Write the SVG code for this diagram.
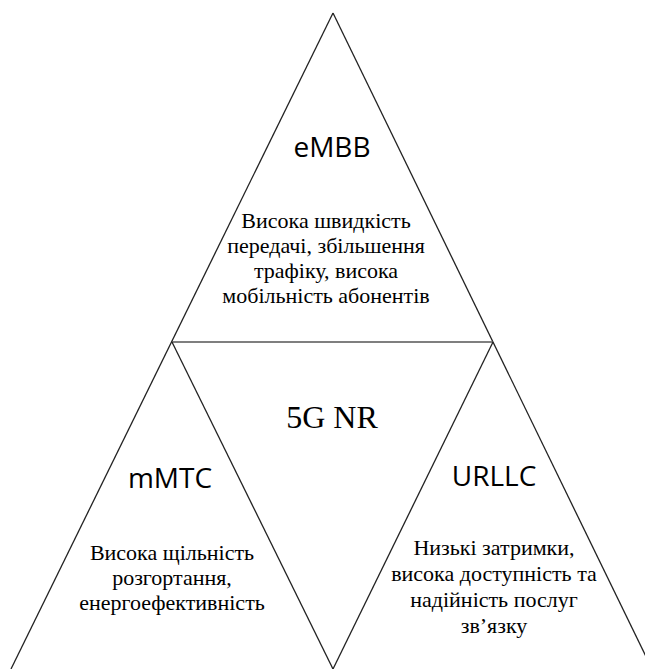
<svg xmlns="http://www.w3.org/2000/svg" width="645" height="669" viewBox="0 0 645 669">
<style>
.ln{stroke:#222;stroke-width:1.3;fill:none}
.hl{stroke:#555;stroke-width:1.6;fill:none}
.t{font-family:"Open Sans","Liberation Sans",sans-serif;font-size:28px;fill:#000;text-anchor:middle}
.b{font-family:"Liberation Serif","Times New Roman",serif;font-size:22px;fill:#000;text-anchor:middle}
.c{font-family:"Liberation Serif","Times New Roman",serif;font-size:32px;fill:#000;text-anchor:middle}
</style>
<rect width="645" height="669" fill="#fff"/>
<g id="connectors">
<line class="ln" x1="333" y1="13" x2="11" y2="669"/>
<line class="ln" x1="333" y1="13" x2="652" y2="669"/>
<line class="hl" x1="172" y1="342" x2="493" y2="342"/>
<line class="ln" x1="172" y1="342" x2="333" y2="669"/>
<line class="ln" x1="493" y1="342" x2="333" y2="669"/>
</g>
<g id="embb">
<text class="t" x="332" y="157">eMBB</text>
<text class="b" x="326" y="228">Висока швидкість</text>
<text class="b" x="326" y="253">передачі, збільшення</text>
<text class="b" x="326" y="278">трафіку, висока</text>
<text class="b" x="326" y="303">мобільність абонентів</text>
</g>
<g id="center">
<text class="c" x="332" y="428">5G NR</text>
</g>
<g id="mmtc">
<text class="t" x="170" y="488">mMTC</text>
<text class="b" x="172" y="560">Висока щільність</text>
<text class="b" x="172" y="585">розгортання,</text>
<text class="b" x="172" y="610">енергоефективність</text>
</g>
<g id="urllc">
<text class="t" x="494" y="486">URLLC</text>
<text class="b" x="494" y="555">Низькі затримки,</text>
<text class="b" x="494" y="581">висока доступність та</text>
<text class="b" x="494" y="607">надійність послуг</text>
<text class="b" x="494" y="633">зв’язку</text>
</g>
</svg>
